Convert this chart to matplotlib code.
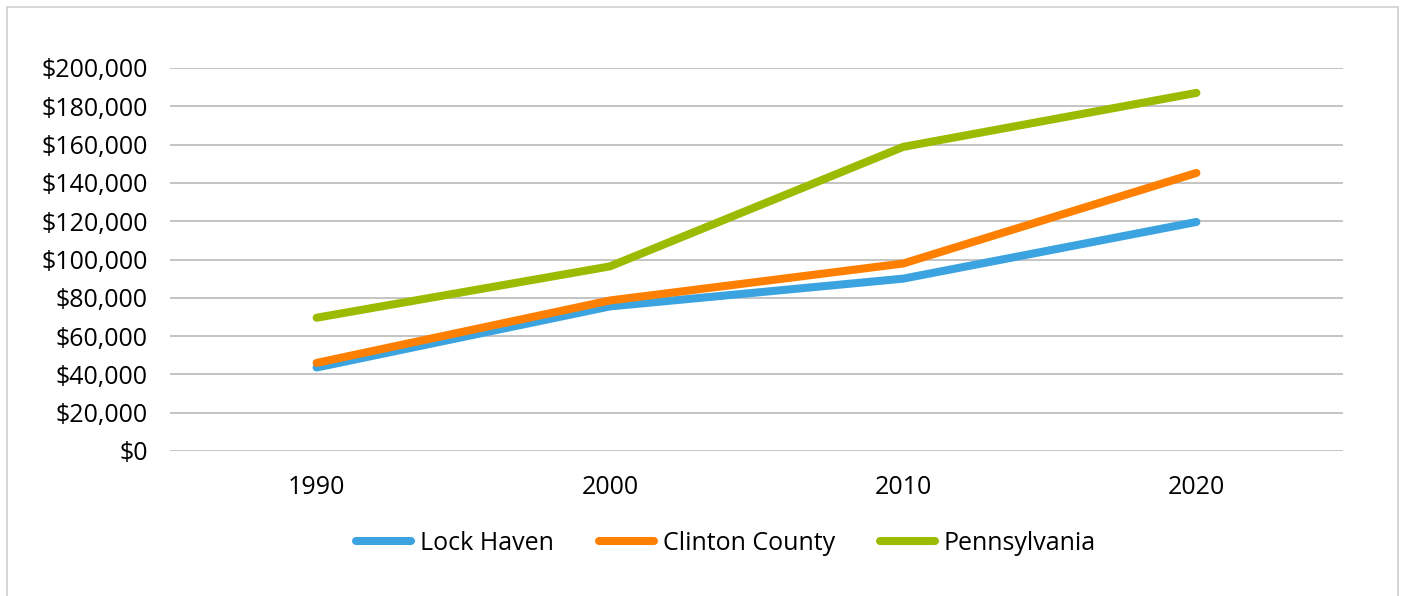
import matplotlib
matplotlib.use("Agg")
import matplotlib.pyplot as plt
from matplotlib.patches import Rectangle
from matplotlib.ticker import FuncFormatter

years = ["1990", "2000", "2010", "2020"]
lock_haven = [43600, 75500, 90000, 119600]
clinton_county = [46000, 78600, 97900, 145200]
pennsylvania = [69600, 96400, 158800, 187000]
series_names = ["Lock Haven", "Clinton County", "Pennsylvania"]
colors = ["#3AA3E0", "#FF8000", "#9BBB00"]

plt.rcParams['font.family'] = ['Open Sans', 'DejaVu Sans']

fig = plt.figure(figsize=(14.02, 5.96), dpi=100)
ax = fig.add_axes([170/1402, 1-451/596, (1343-170)/1402, (451-68)/596])

x = list(range(len(years)))
for vals, name, c in zip([lock_haven, clinton_county, pennsylvania], series_names, colors):
    ax.plot(x, vals, color=c, lw=5.8, solid_capstyle='round', solid_joinstyle='round', label=name)

ax.set_xlim(-0.5, len(years) - 0.5)
ax.set_ylim(0, 200000)
ax.set_yticks(range(0, 200001, 20000))
ax.yaxis.set_major_formatter(FuncFormatter(lambda v, p: f"${v:,.0f}"))
ax.set_xticks(x)
ax.set_xticklabels(years)
ax.grid(axis='y', color='#BFBFBF', lw=1.3)
ax.set_axisbelow(True)
for s in ax.spines.values():
    s.set_visible(False)
ax.tick_params(axis='both', length=0, labelsize=18, colors='#000000')
ax.tick_params(axis='y', pad=16)
ax.tick_params(axis='x', pad=17)

fig.legend(loc='center', bbox_to_anchor=(726/1402, 1-543/596), ncol=3, frameon=False,
           fontsize=18, handlelength=2.2, handletextpad=0.35, columnspacing=1.8)

fig.patches.append(Rectangle((7/1402, -0.02), (1398-7)/1402, 1.02-7/596, transform=fig.transFigure,
                             fill=False, edgecolor='#D0D0D0', lw=1.2))

fig.savefig("out.png", dpi=100)
